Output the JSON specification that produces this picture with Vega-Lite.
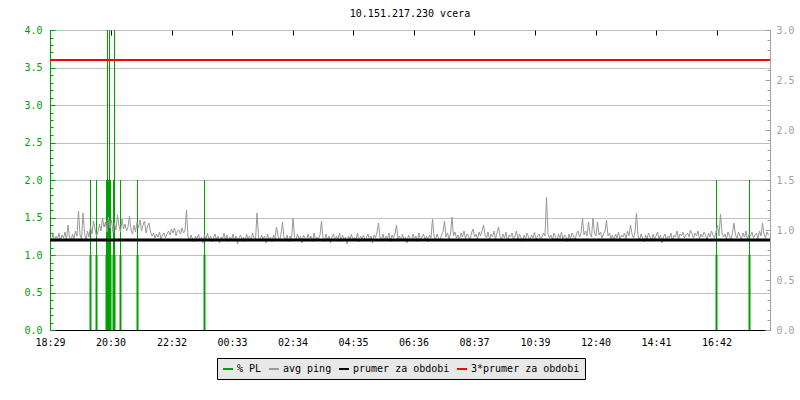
{
  "$schema": "https://vega.github.io/schema/vega-lite/v6.json",
  "width": 720,
  "height": 300,
  "autosize": {"type": "none"},
  "padding": {"left": 50, "top": 30, "right": 30, "bottom": 70},
  "background": "#ffffff",
  "title": {"text": "10.151.217.230 vcera", "font": "DejaVu Sans Mono", "fontSize": 10, "fontWeight": "normal", "color": "#000000", "offset": 6, "anchor": "middle"},
  "datasets": {
    "pl": [
      {"m": 81, "pl": 2}, {"m": 93, "pl": 2}, {"m": 113, "pl": 2}, {"m": 115, "pl": 5}, {"m": 117, "pl": 2},
      {"m": 119, "pl": 5}, {"m": 121, "pl": 2}, {"m": 127, "pl": 2}, {"m": 129, "pl": 5}, {"m": 141, "pl": 2},
      {"m": 175, "pl": 2}, {"m": 309, "pl": 2}, {"m": 1333, "pl": 2}, {"m": 1399, "pl": 2}
    ],
    "stats": [
      {"s": "prumer za obdobi", "v": 0.9},
      {"s": "3*prumer za obdobi", "v": 2.7}
    ],
    "ping": [
      {"m":0,"v":0.93},{"m":3,"v":0.90},{"m":6,"v":0.96},{"m":9,"v":0.88},{"m":12,"v":0.94},{"m":15,"v":0.91},{"m":18,"v":0.97},{"m":21,"v":0.89},{"m":24,"v":0.95},{"m":27,"v":0.92},
      {"m":30,"v":0.98},{"m":33,"v":0.90},{"m":36,"v":1.05},{"m":39,"v":0.93},{"m":42,"v":0.89},{"m":45,"v":0.96},{"m":48,"v":0.91},{"m":51,"v":0.99},{"m":54,"v":0.94},{"m":57,"v":1.19},
      {"m":60,"v":0.95},{"m":63,"v":0.91},{"m":66,"v":1.17},{"m":69,"v":0.97},{"m":72,"v":0.90},{"m":75,"v":0.99},{"m":78,"v":0.93},{"m":81,"v":1.04},{"m":84,"v":0.96},{"m":87,"v":1.09},
      {"m":90,"v":1.01},{"m":93,"v":0.94},{"m":96,"v":0.98},{"m":99,"v":1.06},{"m":102,"v":0.99},{"m":105,"v":1.12},{"m":108,"v":1.03},{"m":111,"v":1.08},{"m":114,"v":0.98},{"m":117,"v":1.13},
      {"m":120,"v":1.02},{"m":123,"v":1.10},{"m":126,"v":0.97},{"m":129,"v":1.07},{"m":132,"v":1.00},{"m":135,"v":1.15},{"m":138,"v":1.04},{"m":141,"v":0.98},{"m":144,"v":1.11},{"m":147,"v":1.01},
      {"m":150,"v":1.06},{"m":153,"v":0.99},{"m":156,"v":1.03},{"m":159,"v":1.14},{"m":162,"v":1.00},{"m":165,"v":0.96},{"m":168,"v":1.05},{"m":171,"v":0.98},{"m":174,"v":1.08},{"m":177,"v":1.02},
      {"m":180,"v":1.10},{"m":183,"v":0.99},{"m":186,"v":1.05},{"m":189,"v":1.09},{"m":192,"v":0.97},{"m":195,"v":1.04},{"m":198,"v":1.07},{"m":201,"v":0.98},{"m":204,"v":0.94},{"m":207,"v":0.97},
      {"m":210,"v":0.92},{"m":213,"v":0.96},{"m":216,"v":0.93},{"m":219,"v":0.98},{"m":222,"v":0.91},{"m":225,"v":0.95},{"m":228,"v":0.97},{"m":231,"v":0.92},{"m":234,"v":0.96},{"m":237,"v":0.99},
      {"m":240,"v":0.95},{"m":243,"v":1.01},{"m":246,"v":0.97},{"m":249,"v":1.02},{"m":252,"v":0.94},{"m":255,"v":0.99},{"m":258,"v":1.00},{"m":261,"v":0.96},{"m":264,"v":1.02},{"m":267,"v":0.97},
      {"m":270,"v":0.99},{"m":273,"v":1.20},{"m":276,"v":0.93},{"m":279,"v":0.89},{"m":282,"v":0.95},{"m":285,"v":0.91},{"m":288,"v":0.88},{"m":291,"v":0.94},{"m":294,"v":0.90},{"m":297,"v":0.96},
      {"m":300,"v":0.89},{"m":303,"v":0.93},{"m":306,"v":0.87},{"m":309,"v":0.95},{"m":312,"v":0.91},{"m":315,"v":0.97},{"m":318,"v":0.89},{"m":321,"v":0.94},{"m":324,"v":0.88},{"m":327,"v":0.92},
      {"m":330,"v":0.96},{"m":333,"v":0.90},{"m":336,"v":0.94},{"m":339,"v":0.87},{"m":342,"v":0.93},{"m":345,"v":0.91},{"m":348,"v":0.97},{"m":351,"v":0.89},{"m":354,"v":0.95},{"m":357,"v":0.88},
      {"m":360,"v":0.93},{"m":363,"v":0.90},{"m":366,"v":0.96},{"m":369,"v":0.89},{"m":372,"v":0.94},{"m":375,"v":0.86},{"m":378,"v":0.92},{"m":381,"v":0.95},{"m":384,"v":0.90},{"m":387,"v":0.93},
      {"m":390,"v":0.88},{"m":393,"v":0.96},{"m":396,"v":0.91},{"m":399,"v":0.94},{"m":402,"v":0.89},{"m":405,"v":0.97},{"m":408,"v":0.92},{"m":411,"v":0.90},{"m":414,"v":1.17},{"m":417,"v":0.93},
      {"m":420,"v":0.89},{"m":423,"v":0.95},{"m":426,"v":0.91},{"m":429,"v":0.94},{"m":432,"v":0.87},{"m":435,"v":0.96},{"m":438,"v":0.90},{"m":441,"v":0.93},{"m":444,"v":0.88},{"m":447,"v":0.95},
      {"m":450,"v":0.91},{"m":453,"v":1.03},{"m":456,"v":0.94},{"m":459,"v":0.89},{"m":462,"v":0.96},{"m":465,"v":1.08},{"m":468,"v":0.92},{"m":471,"v":0.90},{"m":474,"v":0.95},{"m":477,"v":0.88},
      {"m":480,"v":0.94},{"m":483,"v":0.91},{"m":486,"v":1.12},{"m":489,"v":0.93},{"m":492,"v":0.89},{"m":495,"v":0.96},{"m":498,"v":0.90},{"m":501,"v":0.94},{"m":504,"v":0.87},{"m":507,"v":0.95},
      {"m":510,"v":0.92},{"m":513,"v":0.89},{"m":516,"v":0.96},{"m":519,"v":0.91},{"m":522,"v":0.94},{"m":525,"v":0.88},{"m":528,"v":0.97},{"m":531,"v":0.90},{"m":534,"v":0.93},{"m":537,"v":0.91},
      {"m":540,"v":0.95},{"m":543,"v":1.09},{"m":546,"v":0.92},{"m":549,"v":0.88},{"m":552,"v":0.96},{"m":555,"v":0.90},{"m":558,"v":0.94},{"m":561,"v":0.87},{"m":564,"v":0.93},{"m":567,"v":0.96},
      {"m":570,"v":0.89},{"m":573,"v":0.94},{"m":576,"v":0.91},{"m":579,"v":0.97},{"m":582,"v":0.88},{"m":585,"v":0.95},{"m":588,"v":0.90},{"m":591,"v":0.93},{"m":594,"v":0.86},{"m":597,"v":0.94},
      {"m":600,"v":0.91},{"m":603,"v":0.96},{"m":606,"v":0.89},{"m":609,"v":0.93},{"m":612,"v":0.90},{"m":615,"v":0.97},{"m":618,"v":0.88},{"m":621,"v":0.94},{"m":624,"v":0.91},{"m":627,"v":0.95},
      {"m":630,"v":0.89},{"m":633,"v":0.93},{"m":636,"v":0.96},{"m":639,"v":0.90},{"m":642,"v":0.94},{"m":645,"v":0.87},{"m":648,"v":0.95},{"m":651,"v":0.92},{"m":654,"v":0.98},{"m":657,"v":1.07},
      {"m":660,"v":0.93},{"m":663,"v":0.90},{"m":666,"v":0.96},{"m":669,"v":0.89},{"m":672,"v":0.94},{"m":675,"v":0.91},{"m":678,"v":0.97},{"m":681,"v":0.88},{"m":684,"v":0.95},{"m":687,"v":0.92},
      {"m":690,"v":0.96},{"m":693,"v":1.05},{"m":696,"v":0.91},{"m":699,"v":0.94},{"m":702,"v":0.89},{"m":705,"v":0.96},{"m":708,"v":0.90},{"m":711,"v":0.93},{"m":714,"v":0.87},{"m":717,"v":0.95},
      {"m":720,"v":0.92},{"m":723,"v":0.89},{"m":726,"v":0.96},{"m":729,"v":0.91},{"m":732,"v":0.94},{"m":735,"v":0.88},{"m":738,"v":0.97},{"m":741,"v":0.90},{"m":744,"v":0.93},{"m":747,"v":0.96},
      {"m":750,"v":0.90},{"m":753,"v":0.94},{"m":756,"v":0.88},{"m":759,"v":0.95},{"m":762,"v":0.92},{"m":765,"v":1.11},{"m":768,"v":0.94},{"m":771,"v":0.90},{"m":774,"v":0.96},{"m":777,"v":0.92},
      {"m":780,"v":0.89},{"m":783,"v":0.95},{"m":786,"v":0.98},{"m":789,"v":1.09},{"m":792,"v":0.93},{"m":795,"v":0.97},{"m":798,"v":0.91},{"m":801,"v":0.96},{"m":804,"v":1.13},{"m":807,"v":0.94},
      {"m":810,"v":0.98},{"m":813,"v":0.92},{"m":816,"v":0.95},{"m":819,"v":0.90},{"m":822,"v":0.97},{"m":825,"v":0.93},{"m":828,"v":0.99},{"m":831,"v":0.91},{"m":834,"v":0.96},{"m":837,"v":0.94},
      {"m":840,"v":0.90},{"m":843,"v":0.97},{"m":846,"v":1.01},{"m":849,"v":0.93},{"m":852,"v":0.96},{"m":855,"v":0.91},{"m":858,"v":0.98},{"m":861,"v":0.94},{"m":864,"v":0.99},{"m":867,"v":1.05},
      {"m":870,"v":0.95},{"m":873,"v":0.92},{"m":876,"v":0.98},{"m":879,"v":0.90},{"m":882,"v":0.96},{"m":885,"v":0.93},{"m":888,"v":0.99},{"m":891,"v":0.91},{"m":894,"v":0.97},{"m":897,"v":1.03},
      {"m":900,"v":0.94},{"m":903,"v":0.90},{"m":906,"v":0.96},{"m":909,"v":0.92},{"m":912,"v":0.98},{"m":915,"v":0.89},{"m":918,"v":0.95},{"m":921,"v":0.93},{"m":924,"v":0.97},{"m":927,"v":0.91},
      {"m":930,"v":0.94},{"m":933,"v":0.99},{"m":936,"v":0.90},{"m":939,"v":0.96},{"m":942,"v":0.92},{"m":945,"v":0.88},{"m":948,"v":0.95},{"m":951,"v":0.91},{"m":954,"v":0.97},{"m":957,"v":0.93},
      {"m":960,"v":0.89},{"m":963,"v":0.95},{"m":966,"v":0.92},{"m":969,"v":0.98},{"m":972,"v":0.90},{"m":975,"v":0.94},{"m":978,"v":0.96},{"m":981,"v":0.91},{"m":984,"v":0.93},{"m":987,"v":0.97},
      {"m":990,"v":0.94},{"m":993,"v":1.33},{"m":996,"v":0.96},{"m":999,"v":0.92},{"m":1002,"v":0.95},{"m":1005,"v":0.90},{"m":1008,"v":0.97},{"m":1011,"v":0.93},{"m":1014,"v":0.89},{"m":1017,"v":0.96},
      {"m":1020,"v":0.92},{"m":1023,"v":0.98},{"m":1026,"v":0.90},{"m":1029,"v":0.95},{"m":1032,"v":0.93},{"m":1035,"v":0.88},{"m":1038,"v":0.96},{"m":1041,"v":0.91},{"m":1044,"v":0.97},{"m":1047,"v":0.94},
      {"m":1050,"v":0.90},{"m":1053,"v":0.96},{"m":1056,"v":0.99},{"m":1059,"v":0.93},{"m":1062,"v":0.97},{"m":1065,"v":1.12},{"m":1068,"v":0.95},{"m":1071,"v":0.99},{"m":1074,"v":0.94},{"m":1077,"v":1.08},
      {"m":1080,"v":0.96},{"m":1083,"v":0.93},{"m":1086,"v":1.12},{"m":1089,"v":0.97},{"m":1092,"v":0.94},{"m":1095,"v":1.08},{"m":1098,"v":0.95},{"m":1101,"v":0.98},{"m":1104,"v":0.92},{"m":1107,"v":0.96},
      {"m":1110,"v":0.99},{"m":1113,"v":1.10},{"m":1116,"v":0.94},{"m":1119,"v":0.97},{"m":1122,"v":0.91},{"m":1125,"v":0.95},{"m":1128,"v":0.89},{"m":1131,"v":0.96},{"m":1134,"v":0.92},{"m":1137,"v":0.98},
      {"m":1140,"v":0.90},{"m":1143,"v":0.95},{"m":1146,"v":0.93},{"m":1149,"v":0.97},{"m":1152,"v":0.91},{"m":1155,"v":0.99},{"m":1158,"v":0.94},{"m":1161,"v":1.05},{"m":1164,"v":0.96},{"m":1167,"v":0.92},
      {"m":1170,"v":0.98},{"m":1173,"v":1.17},{"m":1176,"v":0.94},{"m":1179,"v":0.90},{"m":1182,"v":0.96},{"m":1185,"v":0.92},{"m":1188,"v":0.88},{"m":1191,"v":0.95},{"m":1194,"v":0.91},{"m":1197,"v":0.97},
      {"m":1200,"v":0.93},{"m":1203,"v":0.89},{"m":1206,"v":0.96},{"m":1209,"v":0.90},{"m":1212,"v":0.94},{"m":1215,"v":0.98},{"m":1218,"v":0.91},{"m":1221,"v":0.95},{"m":1224,"v":0.87},{"m":1227,"v":0.93},
      {"m":1230,"v":0.96},{"m":1233,"v":0.90},{"m":1236,"v":0.94},{"m":1239,"v":0.92},{"m":1242,"v":0.97},{"m":1245,"v":0.89},{"m":1248,"v":0.95},{"m":1251,"v":0.93},{"m":1254,"v":0.99},{"m":1257,"v":0.91},
      {"m":1260,"v":0.96},{"m":1263,"v":0.94},{"m":1266,"v":0.98},{"m":1269,"v":0.92},{"m":1272,"v":0.95},{"m":1275,"v":0.97},{"m":1278,"v":0.93},{"m":1281,"v":1.00},{"m":1284,"v":0.96},{"m":1287,"v":0.92},
      {"m":1290,"v":0.97},{"m":1293,"v":0.94},{"m":1296,"v":0.99},{"m":1299,"v":0.91},{"m":1302,"v":0.96},{"m":1305,"v":0.93},{"m":1308,"v":0.98},{"m":1311,"v":0.95},{"m":1314,"v":0.90},{"m":1317,"v":0.97},
      {"m":1320,"v":0.93},{"m":1323,"v":0.99},{"m":1326,"v":0.95},{"m":1329,"v":0.92},{"m":1332,"v":0.98},{"m":1335,"v":1.05},{"m":1338,"v":0.94},{"m":1341,"v":1.16},{"m":1344,"v":0.97},{"m":1347,"v":0.93},
      {"m":1350,"v":0.96},{"m":1353,"v":0.91},{"m":1356,"v":0.98},{"m":1359,"v":0.94},{"m":1362,"v":0.90},{"m":1365,"v":0.97},{"m":1368,"v":1.07},{"m":1371,"v":0.95},{"m":1374,"v":0.92},{"m":1377,"v":0.98},
      {"m":1380,"v":0.94},{"m":1383,"v":0.91},{"m":1386,"v":0.97},{"m":1389,"v":0.93},{"m":1392,"v":0.99},{"m":1395,"v":0.90},{"m":1398,"v":0.96},{"m":1401,"v":0.94},{"m":1404,"v":0.98},{"m":1407,"v":0.92},
      {"m":1410,"v":0.95},{"m":1413,"v":0.97},{"m":1416,"v":0.91},{"m":1419,"v":0.99},{"m":1422,"v":0.94},{"m":1425,"v":1.07},{"m":1428,"v":0.96},{"m":1431,"v":0.92},{"m":1434,"v":0.98},{"m":1437,"v":0.95}
    ]
  },
  "layer": [
    {
      "data": {"name": "pl"},
      "transform": [{"filter": "datum.pl <= 4"}],
      "mark": {"type": "rule", "strokeWidth": 1, "clip": true},
      "encoding": {
        "x": {
          "field": "m", "type": "quantitative",
          "scale": {"domain": [0, 1440], "nice": false, "zero": false},
          "axis": {
            "title": null,
            "values": [0, 121, 243, 364, 485, 606, 727, 848, 970, 1091, 1212, 1333],
            "labelExpr": "timeFormat(datetime(2024,0,1,18,29+datum.value),'%H:%M')",
            "labelFont": "DejaVu Sans Mono", "labelFontSize": 10, "labelColor": "#000000",
            "labelFlush": false, "labelOverlap": false,
            "domain": true, "domainColor": "#000000", "ticks": false, "tickSize": 0,
            "labelPadding": 7, "grid": false
          }
        },
        "y": {
          "field": "pl", "type": "quantitative",
          "scale": {"domain": [0, 4], "nice": false},
          "axis": {
            "title": null, "orient": "left",
            "values": [0, 0.5, 1, 1.5, 2, 2.5, 3, 3.5, 4],
            "format": ".1f",
            "labelFont": "DejaVu Sans Mono", "labelFontSize": 10, "labelColor": "#00a000",
            "labelOverlap": false, "labelFlush": false,
            "domain": true, "domainColor": "#00a000", "ticks": false, "tickSize": 0,
            "labelPadding": 8,
            "grid": true, "gridColor": "#c0c0c0", "gridWidth": 1
          }
        },
        "y2": {"datum": 0},
        "color": {
          "datum": "% PL", "title": null,
          "scale": {"domain": ["% PL", "avg ping", "prumer za obdobi", "3*prumer za obdobi"], "range": ["#00a000", "#999999", "#000000", "#ff0000"]},
          "legend": {
            "orient": "none", "legendX": 167, "legendY": 328, "direction": "horizontal", "title": null,
            "fillColor": "#e8e8e8", "strokeColor": "#000000", "padding": 5, "cornerRadius": 0,
            "labelFont": "DejaVu Sans Mono", "labelFontSize": 10, "labelColor": "#000000",
            "symbolType": "stroke", "symbolSize": 100, "symbolStrokeWidth": 2,
            "labelOffset": 3, "columnPadding": 3
          }
        }
      }
    },
    {
      "data": {"name": "pl"},
      "transform": [{"filter": "datum.pl > 4"}],
      "mark": {"type": "rule", "strokeWidth": 1, "clip": true},
      "encoding": {
        "x": {
          "field": "m", "type": "quantitative",
          "scale": {"domain": [0, 1440], "nice": false, "zero": false},
          "axis": {
            "title": null, "offset": -5,
            "values": [0, 121, 243, 364, 485, 606, 727, 848, 970, 1091, 1212, 1333],
            "labels": false, "domain": false, "grid": false,
            "ticks": true, "tickSize": 5, "tickColor": "#000000"
          }
        },
        "y": {
          "field": "pl", "type": "quantitative",
          "scale": {"domain": [0, 4], "nice": false},
          "axis": {
            "title": null, "orient": "left", "offset": -5,
            "values": [0, 0.5, 1, 1.5, 2, 2.5, 3, 3.5, 4],
            "labels": false, "domain": false, "grid": false,
            "ticks": true, "tickSize": 5, "tickColor": "#00a000"
          }
        },
        "y2": {"datum": 0},
        "color": {"datum": "% PL", "title": null}
      }
    },
    {
      "data": {"name": "pl"},
      "mark": {"type": "rule", "strokeWidth": 2, "clip": true},
      "encoding": {
        "x": {"field": "m", "type": "quantitative", "scale": {"domain": [0, 1440], "nice": false, "zero": false}, "axis": null},
        "y": {
          "datum": 1,
          "scale": {"domain": [0, 4], "nice": false},
          "axis": {
            "title": null, "orient": "left", "offset": -3,
            "values": [0,0.1,0.2,0.3,0.4,0.5,0.6,0.7,0.8,0.9,1,1.1,1.2,1.3,1.4,1.5,1.6,1.7,1.8,1.9,2,2.1,2.2,2.3,2.4,2.5,2.6,2.7,2.8,2.9,3,3.1,3.2,3.3,3.4,3.5,3.6,3.7,3.8,3.9,4],
            "labels": false, "domain": false, "grid": false,
            "ticks": true, "tickSize": 3, "tickColor": "#00a000"
          }
        },
        "y2": {"datum": 0},
        "color": {"datum": "% PL", "title": null}
      }
    },
    {
      "data": {"name": "ping"},
      "mark": {"type": "line", "strokeWidth": 1, "interpolate": "linear", "clip": true},
      "encoding": {
        "x": {"field": "m", "type": "quantitative", "scale": {"domain": [0, 1440], "nice": false, "zero": false}, "axis": null},
        "y": {
          "field": "v", "type": "quantitative",
          "scale": {"domain": [0, 3], "nice": false},
          "axis": {
            "title": null, "orient": "right",
            "values": [0, 0.5, 1, 1.5, 2, 2.5, 3],
            "format": ".1f",
            "labelFont": "DejaVu Sans Mono", "labelFontSize": 10, "labelColor": "#a0a0a0",
            "labelOverlap": false, "labelFlush": false,
            "domain": true, "domainColor": "#a0a0a0", "ticks": false, "tickSize": 0,
            "labelPadding": 6, "grid": false
          }
        },
        "color": {"datum": "avg ping", "title": null}
      }
    },
    {
      "data": {"name": "stats"},
      "transform": [{"filter": "datum.s == 'prumer za obdobi'"}],
      "mark": {"type": "rule", "strokeWidth": 3},
      "encoding": {
        "y": {
          "field": "v", "type": "quantitative",
          "scale": {"domain": [0, 3], "nice": false},
          "axis": {
            "title": null, "orient": "right", "offset": -5,
            "values": [0, 0.5, 1, 1.5, 2, 2.5, 3],
            "labels": false, "domain": false, "grid": false,
            "ticks": true, "tickSize": 5, "tickColor": "#a0a0a0"
          }
        },
        "color": {"field": "s", "type": "nominal", "title": null}
      }
    },
    {
      "data": {"name": "stats"},
      "transform": [{"filter": "datum.s == '3*prumer za obdobi'"}],
      "mark": {"type": "rule", "strokeWidth": 2},
      "encoding": {
        "y": {
          "field": "v", "type": "quantitative",
          "scale": {"domain": [0, 3], "nice": false},
          "axis": {
            "title": null, "orient": "right", "offset": -3,
            "values": [0,0.1,0.2,0.3,0.4,0.5,0.6,0.7,0.8,0.9,1,1.1,1.2,1.3,1.4,1.5,1.6,1.7,1.8,1.9,2,2.1,2.2,2.3,2.4,2.5,2.6,2.7,2.8,2.9,3],
            "labels": false, "domain": false, "grid": false,
            "ticks": true, "tickSize": 3, "tickColor": "#a0a0a0"
          }
        },
        "color": {"field": "s", "type": "nominal", "title": null}
      }
    }
  ],
  "resolve": {"scale": {"x": "independent", "y": "independent"}},
  "config": {
    "view": {"stroke": null},
    "font": "DejaVu Sans Mono"
  }
}
